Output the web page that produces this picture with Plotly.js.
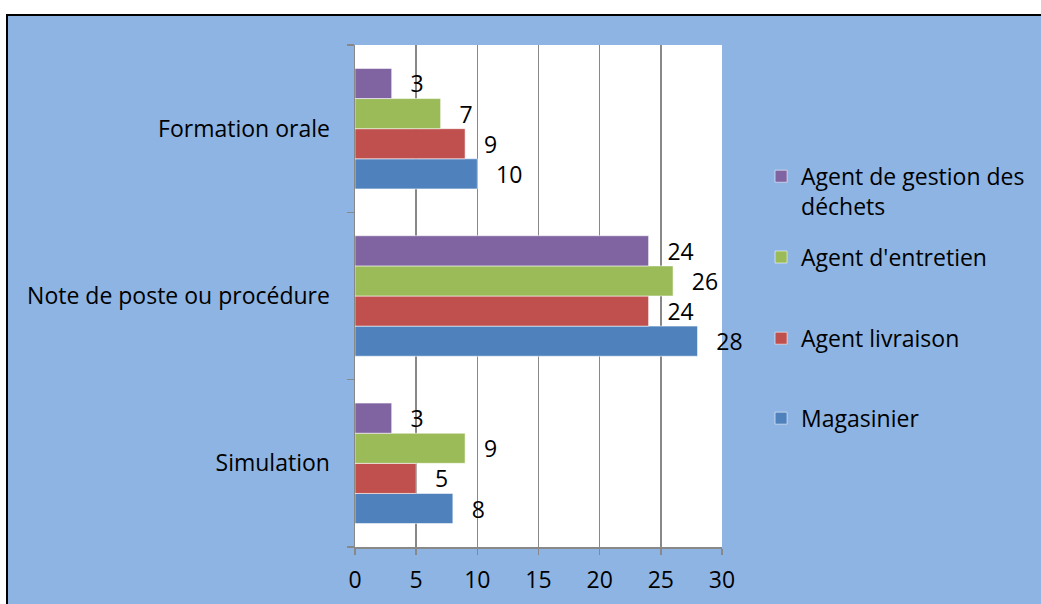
<!DOCTYPE html>
<html>
<head>
<meta charset="utf-8">
<script src="https://cdn.plot.ly/plotly-3.0.1.min.js"></script>
<style>
  html, body { margin: 0; padding: 0; background: #ffffff; width: 1041px; height: 604px; overflow: hidden; }
  #frame { position: absolute; left: 6px; top: 14px; width: 1040px; height: 600px; border-top: 2px solid #000; border-left: 2px solid #000; background: #8EB4E3; }
  #chart { position: absolute; left: 0; top: 0; width: 1033px; height: 588px; }
</style>
</head>
<body>
<div id="frame"><div id="chart"></div></div>
<script>
const categories = ['Simulation', 'Note de poste ou procédure', 'Formation orale'];
const seriesNames = ['Magasinier', 'Agent livraison', "Agent d'entretien", 'Agent de gestion des<br>déchets'];
const magasinier = [8, 28, 10];
const agentLivraison = [5, 24, 9];
const agentEntretien = [9, 26, 7];
const agentDechets = [3, 24, 3];
const xTicks = [0, 5, 10, 15, 20, 25, 30];

const seriesValues = [magasinier, agentLivraison, agentEntretien, agentDechets];
const colors = ['#4F81BD', '#C0504D', '#9BBB59', '#8064A2'];
const legendIds = ['legend4', 'legend3', 'legend2', 'legend'];

const FONT = '"Open Sans", "Noto Sans", sans-serif';
const FS = 23;

const data = seriesValues.map((vals, i) => ({
  type: 'bar',
  orientation: 'h',
  name: seriesNames[i],
  y: categories,
  x: vals,
  legend: legendIds[i],
  marker: { color: colors[i], line: { color: 'rgba(255,255,255,0.55)', width: 1 } },
  text: vals.map(String),
  texttemplate: '\u00a0\u00a0\u2009%{x}',
  textposition: 'outside',
  constraintext: 'none',
  cliponaxis: false,
  textfont: { family: FONT, size: FS, color: '#000' },
  hoverinfo: 'skip'
}));

const legendBase = {
  xref: 'container', yref: 'container',
  x: 0.729, xanchor: 'left',
  bgcolor: 'rgba(0,0,0,0)', borderwidth: 0,
  font: { family: FONT, size: FS, color: '#000' }
};

const layout = {
  width: 1033, height: 588,
  paper_bgcolor: '#8EB4E3',
  plot_bgcolor: '#FFFFFF',
  margin: { l: 347, r: 319, t: 29, b: 57, autoexpand: false },
  barmode: 'group',
  bargap: 0.28,
  bargroupgap: 0,
  font: { family: FONT, size: FS, color: '#000' },
  xaxis: {
    range: [0, 30], tickvals: xTicks, ticktext: xTicks.map(String),
    tickangle: 0,
    showgrid: true, gridcolor: '#888888', gridwidth: 1.5,
    showline: true, linecolor: '#888888', linewidth: 1.5,
    ticks: 'outside', ticklen: 6, tickcolor: '#888888', tickwidth: 1.5,
    ticklabelstandoff: 6,
    zeroline: false, fixedrange: true,
    tickfont: { family: FONT, size: FS, color: '#000' }
  },
  yaxis: {
    type: 'category', categoryorder: 'array', categoryarray: categories,
    showgrid: false,
    showline: true, linecolor: '#888888', linewidth: 1.5,
    ticks: 'outside', tickson: 'boundaries', ticklen: 7, tickcolor: '#888888', tickwidth: 1.5,
    ticklabelstandoff: 19,
    fixedrange: true,
    tickfont: { family: FONT, size: FS, color: '#000' }
  },
  showlegend: true,
  legend: Object.assign({}, legendBase, { y: 0.764, yanchor: 'top', valign: 'top' }),
  legend2: Object.assign({}, legendBase, { y: 0.590, yanchor: 'middle' }),
  legend3: Object.assign({}, legendBase, { y: 0.452, yanchor: 'middle' }),
  legend4: Object.assign({}, legendBase, { y: 0.316, yanchor: 'middle' })
};

Plotly.newPlot('chart', data, layout, { displayModeBar: false, staticPlot: true });
</script>
</body>
</html>
